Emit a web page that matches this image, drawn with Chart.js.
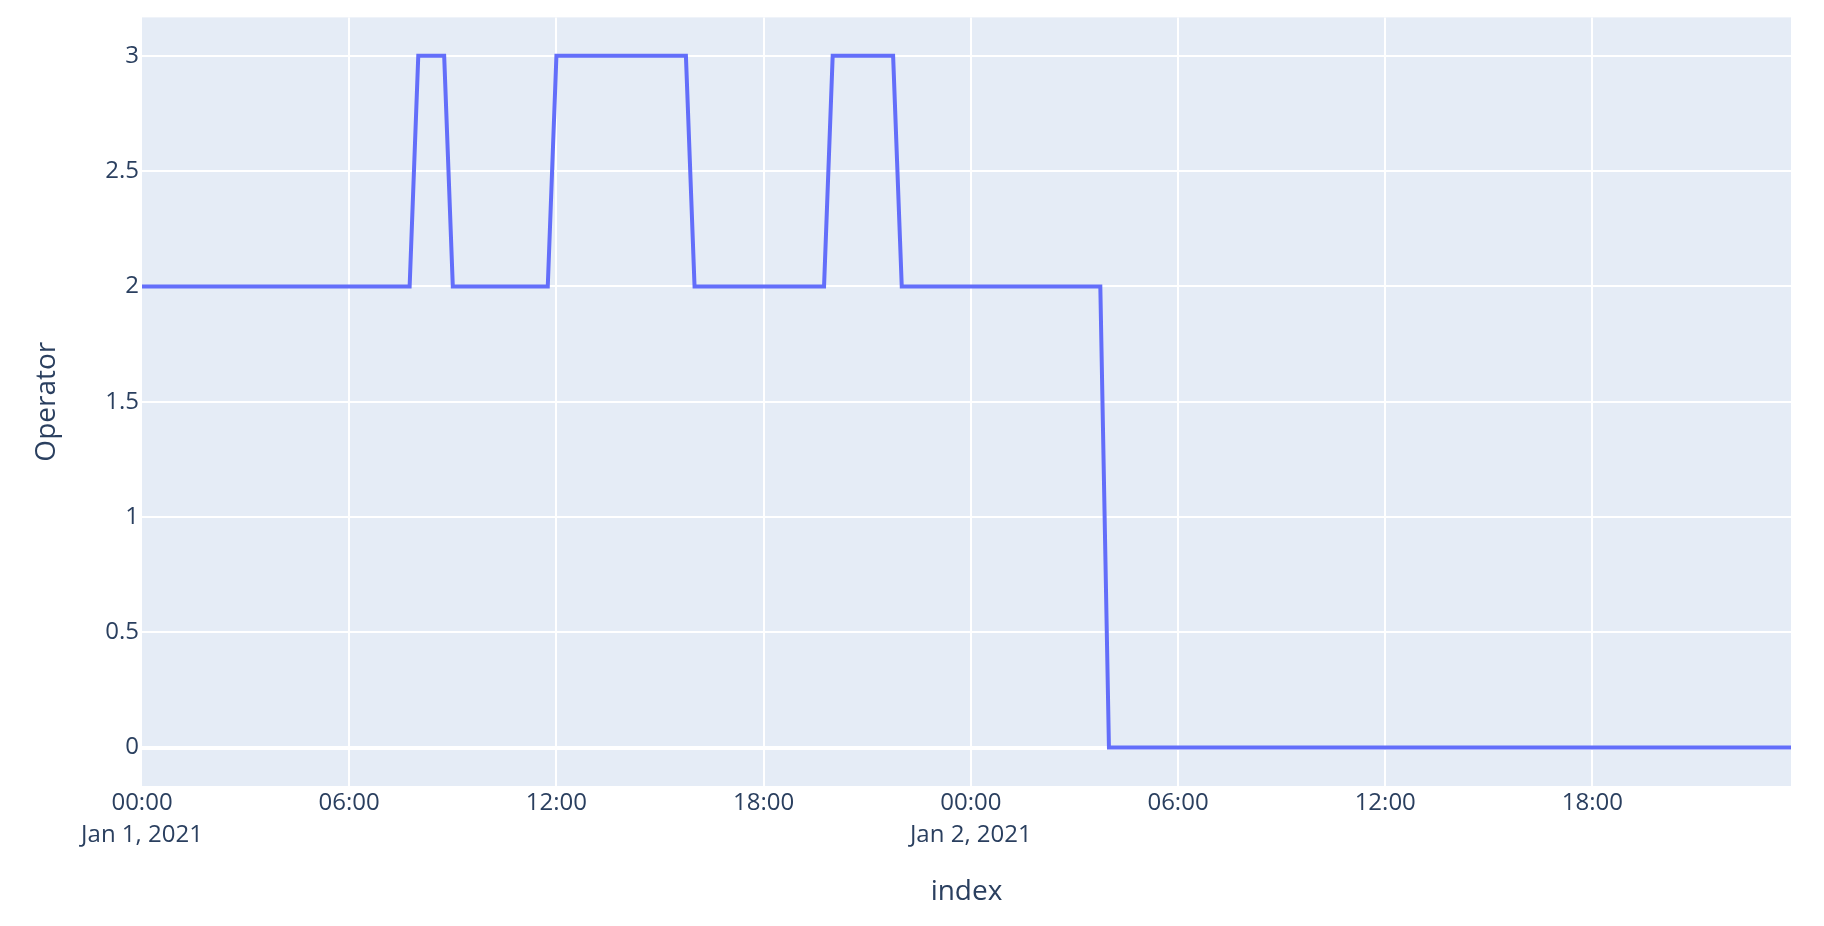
<!DOCTYPE html>
<html>
<head>
<meta charset="utf-8">
<script src="https://cdn.jsdelivr.net/npm/chart.js@4.4.1/dist/chart.umd.min.js"></script>
<style>
  html, body { margin: 0; padding: 0; background: #fff; }
  #wrap { width: 1824px; height: 926px; }
</style>
</head>
<body>
<div id="wrap"><canvas id="myChart" width="1824" height="926"></canvas></div>
<script>
// change points of the series (15 min samples, line is straight between them)
var times = [
  "2021-01-01T00:00", "2021-01-01T07:45", "2021-01-01T08:00", "2021-01-01T08:45",
  "2021-01-01T09:00", "2021-01-01T11:45", "2021-01-01T12:00", "2021-01-01T15:45",
  "2021-01-01T16:00", "2021-01-01T19:45", "2021-01-01T20:00", "2021-01-01T21:45",
  "2021-01-01T22:00", "2021-01-02T03:45", "2021-01-02T04:00", "2021-01-02T23:45"
];
var operator = [2, 2, 3, 3, 2, 2, 3, 3, 2, 2, 3, 3, 2, 2, 0, 0];

// x axis ticks, hours since start
var xTicks = [0, 6, 12, 18, 24, 30, 36, 42];
var xTickLabels = [
  ["00:00", "Jan 1, 2021"], "06:00", "12:00", "18:00",
  ["00:00", "Jan 2, 2021"], "06:00", "12:00", "18:00"
];
var yTicks = [0, 0.5, 1, 1.5, 2, 2.5, 3];
var yTickLabels = ["0", "0.5", "1", "1.5", "2", "2.5", "3"];

var start = Date.parse(times[0] + ":00Z");
function toHours(t) {
  return (Date.parse(t + ":00Z") - start) / 3600000;
}

var points = [];
for (var i = 0; i < times.length; i++) {
  points.push({ x: toHours(times[i]), y: operator[i] });
}

var txt = "#2a3f5f";
var fam = "'Open Sans', 'Noto Sans', sans-serif";

var plotBg = {
  id: "plotBg",
  beforeDraw: function (chart) {
    var a = chart.chartArea;
    var c = chart.ctx;
    c.save();
    c.fillStyle = "#e5ecf6";
    c.fillRect(a.left, a.top, a.right - a.left, a.bottom - a.top);
    c.restore();
  }
};

new Chart("myChart", {
  type: "line",
  data: {
    datasets: [{
      label: "Operator",
      data: points,
      borderColor: "#636efa",
      borderWidth: 4,
      pointRadius: 0,
      tension: 0,
      fill: false
    }]
  },
  options: {
    responsive: false,
    devicePixelRatio: 1,
    animation: false,
    layout: { padding: { left: 0, right: 33, top: 16, bottom: 0 } },
    plugins: {
      legend: { display: false },
      tooltip: { enabled: false }
    },
    scales: {
      x: {
        type: "linear",
        min: 0,
        max: toHours(times[times.length - 1]),
        afterBuildTicks: function (s) {
          s.ticks = xTicks.map(function (v) { return { value: v }; });
        },
        afterFit: function (s) { s.height = 140; },
        grid: {
          color: "#ffffff",
          lineWidth: function (c) { return c.tick && c.tick.value === 0 ? 0 : 2; },
          drawTicks: false
        },
        border: { display: false },
        ticks: {
          autoSkip: false,
          maxRotation: 0,
          minRotation: 0,
          padding: 2,
          color: txt,
          font: { family: fam, size: 24, lineHeight: 1.3 },
          callback: function (v, i) { return xTickLabels[i]; }
        },
        title: {
          display: true,
          text: "index",
          color: txt,
          font: { family: fam, size: 28 },
          padding: { top: 0, bottom: 17 }
        }
      },
      y: {
        min: -0.1667,
        max: 3.1667,
        afterBuildTicks: function (s) {
          s.ticks = yTicks.map(function (v) { return { value: v }; });
        },
        afterFit: function (s) { s.width = 142; },
        grid: {
          color: "#ffffff",
          lineWidth: function (c) { return c.tick && c.tick.value === 0 ? 4 : 2; },
          drawTicks: false
        },
        border: { display: false },
        ticks: {
          padding: 3,
          color: txt,
          font: { family: fam, size: 24 },
          callback: function (v, i) { return yTickLabels[i]; }
        },
        title: {
          display: true,
          text: "Operator",
          color: txt,
          font: { family: fam, size: 28 },
          padding: { top: 30, bottom: 0 }
        }
      }
    }
  },
  plugins: [plotBg]
});
</script>
</body>
</html>
